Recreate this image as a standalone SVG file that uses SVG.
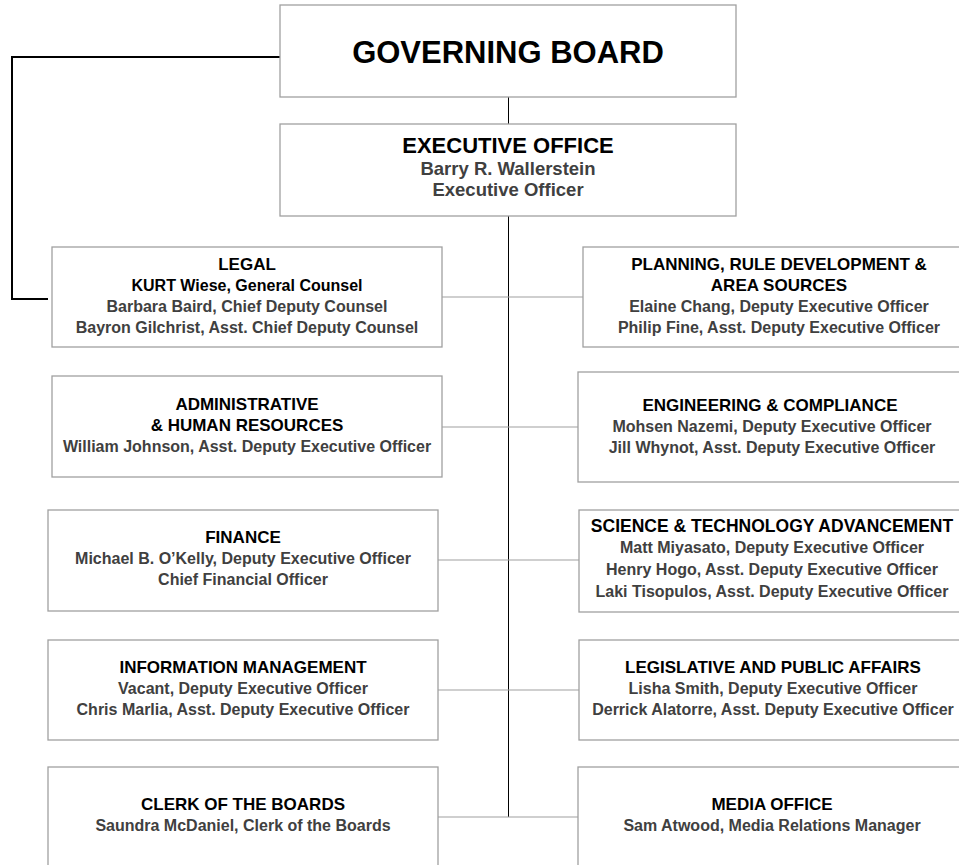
<svg xmlns="http://www.w3.org/2000/svg" width="959" height="865" viewBox="0 0 959 865">
<style>
.box{fill:#fff;stroke:#a0a0a0;stroke-width:1.3}
text{font-family:"Liberation Sans",Arial,sans-serif;font-weight:bold;text-anchor:middle}
.t{fill:#000;font-size:17px}
.p{fill:#404040;font-size:16px}
.k{fill:#000;font-size:16px}
.ln{fill:none;stroke:#000;stroke-width:1}
.gl{fill:none;stroke:#a0a0a0;stroke-width:1.2}
.lg{fill:none;stroke:#000;stroke-width:2}
</style>
<rect width="959" height="865" fill="#fff"/>
<g id="connectors">
<path class="lg" d="M280,57 H12 V299 H48"/>
<path class="ln" d="M508.5,97 V124 M508.5,216 V817"/>
<path class="gl" d="M442,297 H583 M442,427 H578 M438,560 H579 M438,690 H579 M438,817 H578"/>
</g>
<g id="governing-board">
<rect class="box" x="280" y="5" width="456" height="92"/>
<text x="508" y="63" style="font-size:31px;fill:#000">GOVERNING BOARD</text>
</g>
<g id="executive-office">
<rect class="box" x="280" y="124" width="456" height="92"/>
<text x="508" y="153" style="font-size:22px;fill:#000">EXECUTIVE OFFICE</text>
<text x="508" y="175" style="font-size:18.5px;fill:#404040">Barry R. Wallerstein</text>
<text x="508" y="196" style="font-size:18.5px;fill:#404040">Executive Officer</text>
</g>
<g id="legal">
<rect class="box" x="52" y="247" width="390" height="100"/>
<text class="t" x="247" y="270">LEGAL</text>
<text class="k" x="247" y="291">KURT Wiese, General Counsel</text>
<text class="p" x="247" y="312">Barbara Baird, Chief Deputy Counsel</text>
<text class="p" x="247" y="333">Bayron Gilchrist, Asst. Chief Deputy Counsel</text>
</g>
<g id="planning">
<rect class="box" x="583" y="247" width="392" height="100"/>
<text class="t" x="779" y="270">PLANNING, RULE DEVELOPMENT &amp;</text>
<text class="t" x="779" y="291">AREA SOURCES</text>
<text class="p" x="779" y="312">Elaine Chang, Deputy Executive Officer</text>
<text class="p" x="779" y="333">Philip Fine, Asst. Deputy Executive Officer</text>
</g>
<g id="administrative">
<rect class="box" x="52" y="376" width="390" height="101"/>
<text class="t" x="247" y="410">ADMINISTRATIVE</text>
<text class="t" x="247" y="431">&amp; HUMAN RESOURCES</text>
<text class="p" x="247" y="452">William Johnson, Asst. Deputy Executive Officer</text>
</g>
<g id="engineering">
<rect class="box" x="578" y="372" width="390" height="110"/>
<text class="t" x="770" y="411">ENGINEERING &amp; COMPLIANCE</text>
<text class="p" x="772" y="432">Mohsen Nazemi, Deputy Executive Officer</text>
<text class="p" x="772" y="453">Jill Whynot, Asst. Deputy Executive Officer</text>
</g>
<g id="finance">
<rect class="box" x="48" y="510" width="390" height="101"/>
<text class="t" x="243" y="543">FINANCE</text>
<text class="p" x="243" y="564">Michael B. O’Kelly, Deputy Executive Officer</text>
<text class="p" x="243" y="585">Chief Financial Officer</text>
</g>
<g id="science">
<rect class="box" x="579" y="510" width="390" height="102"/>
<text class="t" x="772" y="532" style="font-size:17.5px">SCIENCE &amp; TECHNOLOGY ADVANCEMENT</text>
<text class="p" x="772" y="553">Matt Miyasato, Deputy Executive Officer</text>
<text class="p" x="772" y="575">Henry Hogo, Asst. Deputy Executive Officer</text>
<text class="p" x="772" y="597">Laki Tisopulos, Asst. Deputy Executive Officer</text>
</g>
<g id="information">
<rect class="box" x="48" y="640" width="390" height="100"/>
<text class="t" x="243" y="673">INFORMATION MANAGEMENT</text>
<text class="p" x="243" y="694">Vacant, Deputy Executive Officer</text>
<text class="p" x="243" y="715">Chris Marlia, Asst. Deputy Executive Officer</text>
</g>
<g id="legislative">
<rect class="box" x="579" y="640" width="390" height="100"/>
<text class="t" x="773" y="673">LEGISLATIVE AND PUBLIC AFFAIRS</text>
<text class="p" x="773" y="694">Lisha Smith, Deputy Executive Officer</text>
<text class="p" x="773" y="715">Derrick Alatorre, Asst. Deputy Executive Officer</text>
</g>
<g id="clerk">
<rect class="box" x="48" y="767" width="390" height="110"/>
<text class="t" x="243" y="810">CLERK OF THE BOARDS</text>
<text class="p" x="243" y="831">Saundra McDaniel, Clerk of the Boards</text>
</g>
<g id="media">
<rect class="box" x="578" y="767" width="390" height="110"/>
<text class="t" x="772" y="810">MEDIA OFFICE</text>
<text class="p" x="772" y="831">Sam Atwood, Media Relations Manager</text>
</g>
</svg>
